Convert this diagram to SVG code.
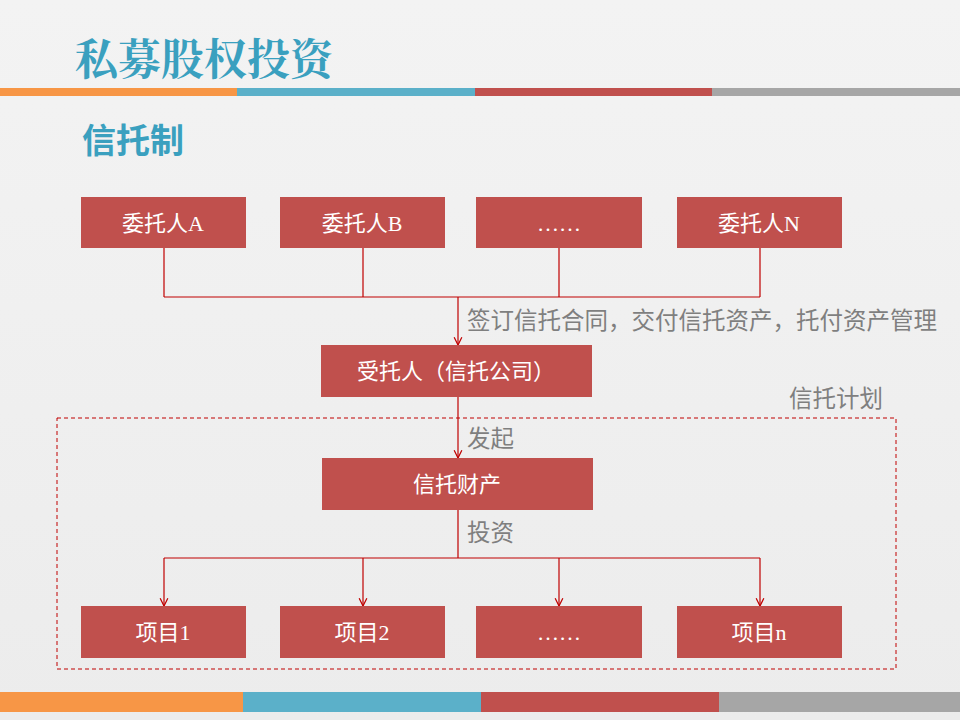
<svg xmlns="http://www.w3.org/2000/svg" width="960" height="720" viewBox="0 0 960 720">
<defs>
<linearGradient id="bg" x1="0" y1="0" x2="0" y2="1"><stop offset="0" stop-color="#f3f3f3"/><stop offset="1" stop-color="#ececec"/></linearGradient>
<marker id="ah" viewBox="0 0 10 10" refX="9" refY="5" markerWidth="8" markerHeight="8" orient="auto"><path d="M1,1 L9,5 L1,9" fill="none" stroke="#c00000" stroke-width="1.3"/></marker>
</defs>
<style>
.b{fill:#c0504d}
.t{font-family:"Liberation Serif","Noto Sans CJK SC",serif;font-size:22px;fill:#fff;text-anchor:middle}
.l{font-family:"Noto Sans CJK SC",sans-serif;font-size:23.5px;fill:#7f7f7f}
.c{stroke:#c00000;stroke-width:1.2;fill:none}
</style>
<rect width="960" height="720" fill="url(#bg)"/>
<rect x="0" y="88" width="237" height="8" fill="#f79646"/><rect x="237" y="88" width="238" height="8" fill="#5bb0c9"/><rect x="475" y="88" width="237" height="8" fill="#c0504d"/><rect x="712" y="88" width="248" height="8" fill="#a6a6a6"/>
<rect x="0" y="692" width="243" height="20" fill="#f79646"/><rect x="243" y="692" width="238" height="20" fill="#5bb0c9"/><rect x="481" y="692" width="238" height="20" fill="#c0504d"/><rect x="719" y="692" width="241" height="20" fill="#a6a6a6"/>
<text x="75" y="75" font-family="'Noto Serif CJK SC','Noto Sans CJK SC',serif" font-weight="bold" font-size="43" fill="#3aa0bf">私募股权投资</text>
<text x="82" y="153" font-family="'Noto Sans CJK SC',sans-serif" font-weight="bold" font-size="34" fill="#3aa0bf">信托制</text>
<rect x="57" y="418" width="839" height="251" fill="none" stroke="#c00000" stroke-dasharray="4,3"/>
<g id="connectors">
<path class="c" d="M164,248V297M363,248V297M559,248V297M760,248V297M164,297H760"/>
<path class="c" d="M458,297V345" stroke-width="2" marker-end="url(#ah)"/>
<path class="c" d="M458,397V458" marker-end="url(#ah)"/>
<path class="c" d="M458,510V558M164,558H760"/>
<path class="c" d="M164,558V606" marker-end="url(#ah)"/><path class="c" d="M363,558V606" marker-end="url(#ah)"/><path class="c" d="M559,558V606" marker-end="url(#ah)"/><path class="c" d="M760,558V606" marker-end="url(#ah)"/>
<text class="l" x="467" y="329">签订信托合同，交付信托资产，托付资产管理</text>
<text class="l" x="467" y="447">发起</text>
<text class="l" x="467" y="541">投资</text>
<text class="l" x="789" y="407">信托计划</text>
</g>
<g id="a1"><rect class="b" x="81" y="197" width="165" height="51"/><text class="t" x="163" y="231">委托人A</text></g>
<g id="a2"><rect class="b" x="280" y="197" width="165" height="51"/><text class="t" x="362" y="231">委托人B</text></g>
<g id="a3"><rect class="b" x="476" y="197" width="166" height="51"/><text class="t" x="559" y="231">……</text></g>
<g id="a4"><rect class="b" x="677" y="197" width="165" height="51"/><text class="t" x="759" y="231">委托人N</text></g>
<g id="trustee"><rect class="b" x="321" y="345" width="271" height="52"/><text class="t" x="456" y="379" font-family="'Noto Sans CJK SC',sans-serif">受托人（信托公司）</text></g>
<g id="prop"><rect class="b" x="322" y="458" width="271" height="52"/><text class="t" x="457" y="492" font-family="'Noto Sans CJK SC',sans-serif">信托财产</text></g>
<g id="p1"><rect class="b" x="81" y="606" width="165" height="52"/><text class="t" x="163" y="640">项目1</text></g>
<g id="p2"><rect class="b" x="280" y="606" width="165" height="52"/><text class="t" x="362" y="640">项目2</text></g>
<g id="p3"><rect class="b" x="476" y="606" width="166" height="52"/><text class="t" x="559" y="640">……</text></g>
<g id="p4"><rect class="b" x="677" y="606" width="165" height="52"/><text class="t" x="759" y="640">项目n</text></g>
</svg>
